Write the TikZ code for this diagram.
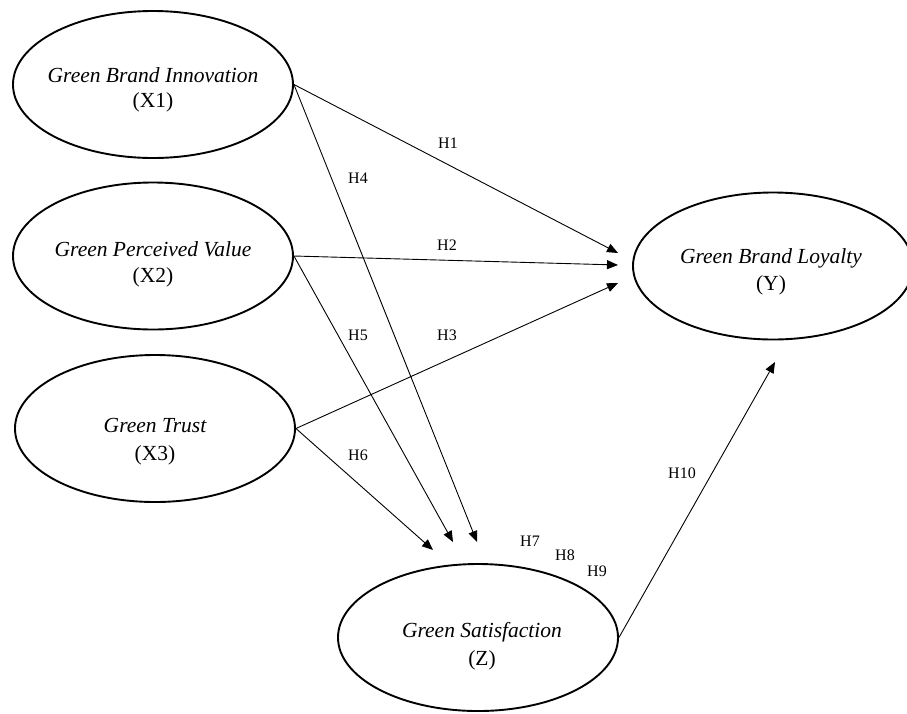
\documentclass[tikz,border=0pt]{standalone}
\usepackage{fontspec}
\setmainfont{Liberation Serif}
\usetikzlibrary{shapes.geometric,arrows.meta}
\begin{document}
\begin{tikzpicture}[x=1pt,y=-1pt,
  var/.style={draw,ellipse,line width=1.9pt,inner sep=0pt,minimum width=280pt,minimum height=147pt},
  vname/.style={anchor=base,font=\fontsize{21.5}{25}\selectfont\itshape,inner sep=0pt},
  vcode/.style={anchor=base,font=\fontsize{21.5}{25}\selectfont,inner sep=0pt},
  hyp/.style={font=\fontsize{16}{18}\selectfont,inner sep=0pt},
  link/.style={line width=0.9pt,-{Triangle[length=11pt,width=9pt]}}]
\useasboundingbox (0,0) rectangle (907,713);
% latent variables
\node[var] (x1) at (153,84.5) {};
\node[var] (x2) at (153,256) {};
\node[var] (x3) at (155,428.5) {};
\node[var] (y) at (773,266) {};
\node[var] (z) at (478,637.5) {};
% texts
\node[vname] (x1a) at (153,82) {Green Brand Innovation};
\node[vcode] (x1b) at (153,107) {(X1)};
\node[vname] (x2a) at (153,256) {Green Perceived Value};
\node[vcode] (x2b) at (153,282) {(X2)};
\node[vname] (x3a) at (155,432) {Green Trust};
\node[vcode] (x3b) at (155,460) {(X3)};
\node[vname] (ya) at (771,263) {Green Brand Loyalty};
\node[vcode] (yb) at (771,290) {(Y)};
\node[vname] (za) at (482,637) {Green Satisfaction};
\node[vcode] (zb) at (482,665) {(Z)};
% arrow tips
\coordinate (t1) at (618,253);
\coordinate (t2) at (618,265);
\coordinate (t3) at (618,283);
\coordinate (t4) at (477,542);
\coordinate (t5) at (453,542);
\coordinate (t6) at (433,550);
\coordinate (t10) at (775,362);
% connectors
\draw[link] (x1.east) -- (t1);
\draw[link] (x2.east) -- (t2);
\draw[link] (x3.east) -- (t3);
\draw[link] (x1.east) -- (t4);
\draw[link] (x2.east) -- (t5);
\draw[link] (x3.east) -- (t6);
\draw[link] (z.east) -- (t10);
% hypothesis labels
\node[hyp] (h1) at (448,143) {H1};
\node[hyp] (h2) at (447,245) {H2};
\node[hyp] (h3) at (447,335) {H3};
\node[hyp] (h4) at (358,178) {H4};
\node[hyp] (h5) at (358,335) {H5};
\node[hyp] (h6) at (358,455) {H6};
\node[hyp] (h7) at (530,541) {H7};
\node[hyp] (h8) at (565,555) {H8};
\node[hyp] (h9) at (597,571) {H9};
\node[hyp] (h10) at (682,473) {H10};
\end{tikzpicture}
\end{document}
